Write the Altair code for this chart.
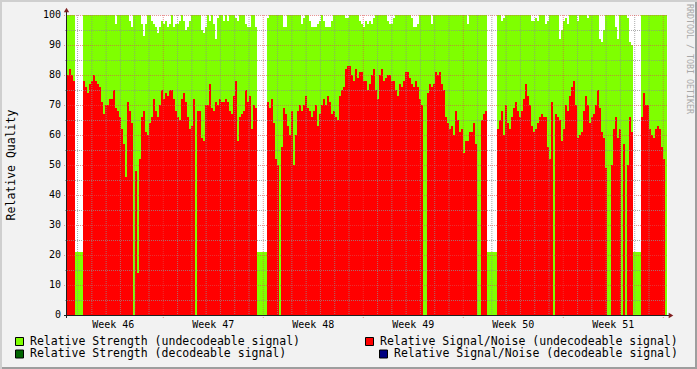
import altair as alt
import pandas as pd

# Relative Signal/Noise (undecodeable signal), one sample per 0.14 day
snr = [
    80, 82, 80, 78, 0, 0, 0, 0, 78, 76,
    74, 77, 78, 80, 78, 77, 76, 71, 67, 70,
    70, 72, 72, 75, 69, 68, 66, 62, 57, 46,
    71, 68, 64, 0, 48, 14, 52, 66, 68, 61,
    60, 64, 66, 72, 68, 66, 70, 75, 72, 74,
    73, 75, 75, 72, 68, 66, 65, 72, 74, 71,
    66, 62, 63, 72, 0, 68, 68, 59, 58, 70,
    70, 77, 69, 68, 71, 70, 72, 71, 71, 72,
    71, 68, 67, 73, 78, 58, 66, 67, 68, 75,
    71, 73, 62, 70, 69, 0, 0, 0, 0, 0,
    71, 69, 72, 64, 52, 50, 0, 56, 69, 67,
    63, 60, 68, 50, 60, 68, 70, 68, 70, 73,
    69, 68, 66, 68, 70, 63, 67, 70, 72, 70,
    73, 71, 67, 68, 66, 65, 73, 75, 76, 82,
    83, 83, 80, 78, 82, 79, 81, 81, 78, 78,
    75, 77, 80, 82, 75, 72, 80, 82, 78, 79,
    80, 80, 78, 78, 75, 73, 77, 76, 78, 81,
    81, 79, 77, 76, 78, 76, 72, 70, 0, 0,
    74, 77, 76, 77, 81, 80, 81, 77, 75, 66,
    64, 62, 63, 60, 68, 65, 61, 62, 54, 58,
    58, 61, 61, 64, 57, 0, 0, 65, 67, 68,
    0, 0, 0, 0, 0, 62, 65, 68, 60, 70,
    64, 62, 66, 69, 71, 68, 66, 68, 72, 77,
    73, 70, 63, 61, 62, 64, 66, 67, 66, 66,
    56, 52, 71, 0, 67, 66, 65, 58, 62, 70,
    68, 73, 76, 78, 70, 59, 60, 61, 68, 73,
    70, 64, 66, 67, 70, 75, 69, 61, 59, 49,
    0, 0, 50, 62, 66, 59, 62, 0, 57, 0,
    50, 66, 61, 0, 0, 0, 0, 66, 74, 70,
    70, 62, 60, 59, 62, 63, 62, 56, 52, 0,
]

# Relative Strength (undecodeable signal)
strength = [
    100, 100, 100, 100, 21, 21, 21, 21, 100, 100,
    100, 100, 100, 100, 100, 100, 100, 100, 100, 100,
    100, 100, 100, 100, 97, 100, 100, 100, 100, 100,
    100, 98, 96, 100, 100, 100, 100, 97, 93, 97,
    100, 100, 98, 97, 96, 94, 96, 98, 97, 98,
    96, 97, 100, 96, 97, 97, 98, 100, 98, 95,
    96, 98, 100, 100, 100, 100, 100, 95, 94, 96,
    100, 98, 100, 97, 92, 99, 100, 100, 98, 100,
    98, 100, 100, 100, 99, 98, 100, 100, 100, 97,
    96, 96, 100, 100, 96, 21, 21, 21, 21, 21,
    99, 100, 100, 100, 100, 100, 100, 100, 96, 96,
    100, 100, 100, 100, 100, 100, 100, 97, 99, 100,
    100, 98, 96, 96, 96, 97, 98, 100, 98, 96,
    96, 96, 98, 100, 100, 100, 100, 100, 100, 99,
    99, 100, 100, 100, 100, 100, 98, 97, 96, 98,
    97, 98, 97, 99, 100, 100, 100, 100, 100, 100,
    98, 97, 97, 99, 100, 100, 100, 100, 100, 100,
    100, 100, 99, 96, 96, 97, 100, 100, 100, 100,
    100, 100, 97, 100, 100, 100, 100, 100, 100, 100,
    100, 100, 100, 100, 100, 100, 100, 100, 100, 100,
    97, 100, 100, 100, 100, 100, 100, 100, 100, 100,
    21, 21, 21, 21, 21, 100, 100, 98, 99, 100,
    100, 100, 100, 100, 100, 100, 100, 100, 100, 100,
    100, 100, 98, 98, 99, 98, 100, 100, 100, 97,
    98, 100, 100, 100, 100, 100, 92, 95, 98, 99,
    97, 100, 100, 100, 100, 98, 100, 100, 100, 100,
    99, 100, 100, 100, 100, 100, 92, 91, 95, 100,
    100, 100, 100, 100, 96, 92, 100, 100, 100, 100,
    99, 91, 90, 21, 21, 21, 21, 100, 100, 100,
    100, 100, 100, 100, 100, 100, 100, 100, 100, 100,
]

week_labels = ["Week 46", "Week 47", "Week 48", "Week 49", "Week 50", "Week 51"]
y_ticks = [0, 10, 20, 30, 40, 50, 60, 70, 80, 90, 100]
legend_labels = [
    "Relative Strength (undecodeable signal)",
    "Relative Strength  (decodeable signal)",
    "Relative Signal/Noise (undecodeable signal)",
    "Relative Signal/Noise (decodeable signal)",
]
legend_colors = ["#7FFF00", "#006400", "#FF0000", "#000080"]

assert len(snr) == 300 and len(strength) == 300

START = 0.26   # days after the Monday that starts week 46
STEP = 0.14    # days per sample
N = len(snr)
END = START + STEP * N

t = [START + STEP * i for i in range(N + 1)]
df = pd.DataFrame({"t": t, "strength": strength + [strength[-1]], "snr": snr + [snr[-1]]})

W, H = 600, 300
PL, PT = 67, 15
FONT = "DejaVu Sans Mono"

xs = alt.Scale(domain=[START, END], nice=False, zero=False)
ys = alt.Scale(domain=[0, 100], nice=False, zero=True)

X = lambda f: alt.X(f, type="quantitative", scale=xs, axis=None)
Y = lambda f: alt.Y(f, type="quantitative", scale=ys, axis=None)

base = alt.Chart(df)
green = base.mark_area(interpolate="step-after", color="#7FFF00", opacity=1).encode(
    x=X("t"), y=Y("strength"))
red = base.mark_area(interpolate="step-after", color="#FF0000", opacity=1).encode(
    x=X("t"), y=Y("snr"))

weeks = [7 * k for k in range(1, 7)]
days = [d for d in range(1, 42) if d % 7 != 0]
mids = [3.5 + 7 * k for k in range(6)]
minor_y = [v for v in range(5, 100, 5) if v % 10 != 0]
major_y = [v for v in range(10, 101, 10)]

dummy = pd.DataFrame({"a": [0]})

vminor = alt.Chart(pd.DataFrame({"d": days})).mark_rule(
    color="#8F8F8F", opacity=0.75, strokeDash=[1, 1], strokeWidth=1).encode(
    x=X("d"), y=alt.value(0), y2=alt.value(H + 2))
vmajor = alt.Chart(pd.DataFrame({"d": weeks})).mark_rule(
    color="#DE4F4F", opacity=0.6, strokeDash=[1, 1], strokeWidth=1).encode(
    x=X("d"), y=alt.value(0), y2=alt.value(H + 3))
hminor = alt.Chart(pd.DataFrame({"v": minor_y})).mark_rule(
    color="#8F8F8F", opacity=0.75, strokeDash=[1, 1], strokeWidth=1, yOffset=0.5).encode(
    y=Y("v"), x=alt.value(-2), x2=alt.value(W))
hmajor = alt.Chart(pd.DataFrame({"v": major_y})).mark_rule(
    color="#DE4F4F", opacity=0.6, strokeDash=[1, 1], strokeWidth=1, yOffset=0.5).encode(
    y=Y("v"), x=alt.value(-3), x2=alt.value(W))

yaxis = alt.Chart(dummy).mark_rule(color="#1F1F1F", strokeWidth=1).encode(
    x=alt.value(-0.5), y=alt.value(-4), y2=alt.value(H + 3))
xaxis = alt.Chart(dummy).mark_rule(color="#1F1F1F", strokeWidth=1).encode(
    y=alt.value(H + 0.5), x=alt.value(-3), x2=alt.value(W + 3))
arrow_up = alt.Chart(dummy).mark_point(shape="triangle-up", filled=True, color="#801F1F",
                                       size=28, opacity=1).encode(
    x=alt.value(-0.5), y=alt.value(-5))
arrow_right = alt.Chart(dummy).mark_point(shape="triangle-right", filled=True, color="#801F1F",
                                          size=28, opacity=1).encode(
    x=alt.value(W + 4), y=alt.value(H + 0.5))

ylabels = alt.Chart(pd.DataFrame({"v": y_ticks})).mark_text(
    align="right", baseline="middle", font=FONT, fontSize=10, color="black").encode(
    y=Y("v"), x=alt.value(-6), text=alt.Text("v:Q"))
xlabels = alt.Chart(pd.DataFrame({"d": mids, "lab": week_labels})).mark_text(
    align="center", baseline="middle", font=FONT, fontSize=10, color="black").encode(
    x=X("d"), y=alt.value(325 - PT), text="lab:N")

ytitle = alt.Chart(dummy).mark_text(
    angle=270, align="center", baseline="middle", font=FONT, fontSize=11.5, color="black").encode(
    x=alt.value(12 - PL), y=alt.value(165 - PT), text=alt.value("Relative Quality"))

watermark = alt.Chart(dummy).mark_text(
    angle=90, align="left", baseline="middle", font=FONT, fontSize=8.3, color="#A8A8A8").encode(
    x=alt.value(688.5 - PL), y=alt.value(4 - PT), text=alt.value("RRDTOOL / TOBI OETIKER"))

# legend: (box x, text x, row)
legend_layout = [(15, 30, 0), (15, 30, 1), (365, 380, 0), (379, 394, 1)]
row_box_top = [337, 349.5]
row_text_y = [341.5, 354]
legend_layers = []
for lab, col, (bx, tx, r) in zip(legend_labels, legend_colors, legend_layout):
    legend_layers.append(alt.Chart(dummy).mark_rect(fill=col, stroke="black", strokeWidth=1).encode(
        x=alt.value(bx + 0.5 - PL), x2=alt.value(bx + 8.5 - PL),
        y=alt.value(row_box_top[r] + 0.5 - PT), y2=alt.value(row_box_top[r] + 8.5 - PT)))
    legend_layers.append(alt.Chart(dummy).mark_text(
        align="left", baseline="middle", font=FONT, fontSize=11.5, color="black").encode(
        x=alt.value(tx - PL), y=alt.value(row_text_y[r] - PT), text=alt.value(lab)))

# 3D frame
frame = [
    alt.Chart(dummy).mark_rule(color="#CFCFCF", strokeWidth=2).encode(
        x=alt.value(-PL), x2=alt.value(697 - PL), y=alt.value(1 - PT)),
    alt.Chart(dummy).mark_rule(color="#CFCFCF", strokeWidth=2).encode(
        y=alt.value(-PT), y2=alt.value(369 - PT), x=alt.value(1 - PL)),
    alt.Chart(dummy).mark_rule(color="#9E9E9E", strokeWidth=2).encode(
        x=alt.value(2 - PL), x2=alt.value(697 - PL), y=alt.value(368 - PT)),
    alt.Chart(dummy).mark_rule(color="#9E9E9E", strokeWidth=2).encode(
        y=alt.value(2 - PT), y2=alt.value(369 - PT), x=alt.value(696 - PL)),
]

chart = alt.layer(
    green, red, vminor, hminor, vmajor, hmajor, yaxis, xaxis, arrow_up, arrow_right,
    ylabels, xlabels, ytitle, watermark, *legend_layers, *frame
).properties(
    width=W, height=H,
    padding={"left": PL, "top": PT, "right": 697 - PL - W, "bottom": 369 - PT - H},
    autosize=alt.AutoSizeParams(type="none"),
).configure(background="#F2F2F2").configure_view(fill="white", stroke="transparent")

chart.save("out.html", embed_options={"renderer": "svg", "actions": False})
